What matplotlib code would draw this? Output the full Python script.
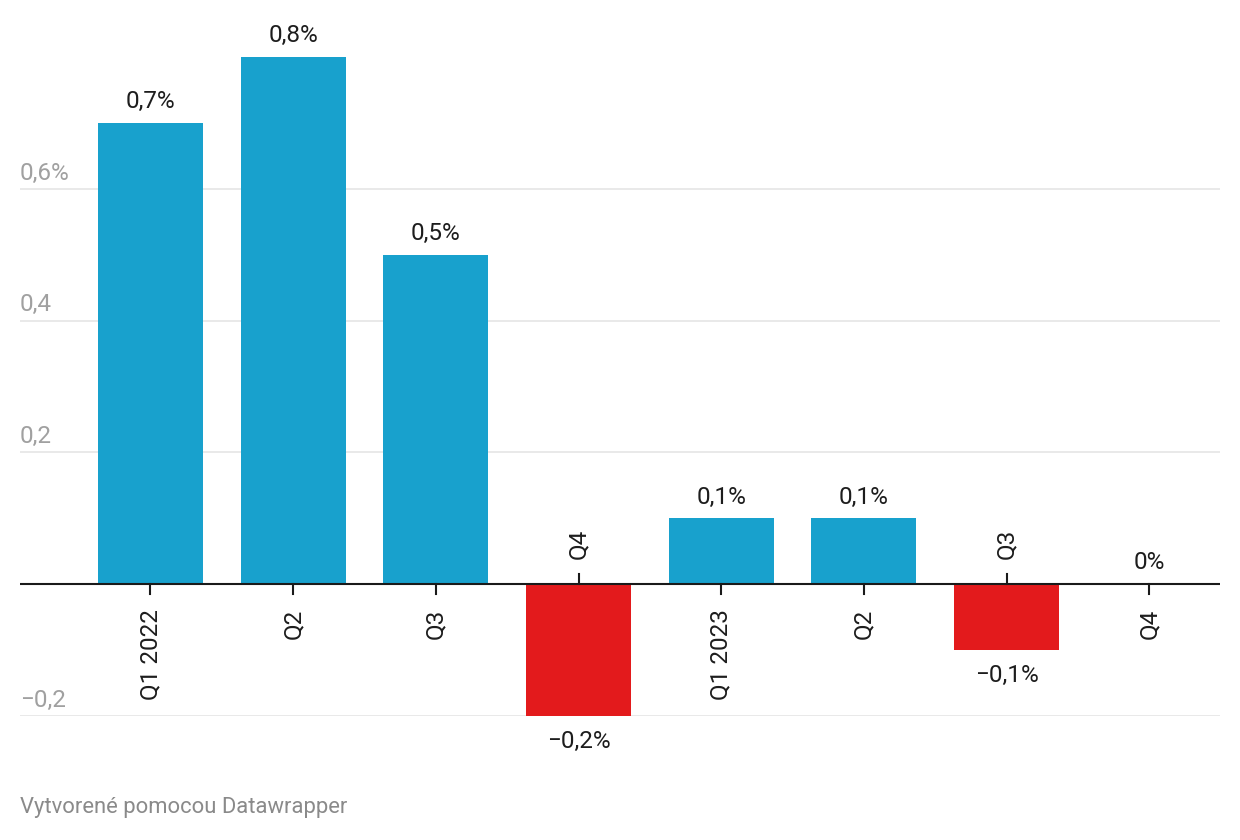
"""Datawrapper-style bar chart: quarterly change, positive/negative bars."""

import matplotlib

matplotlib.use("Agg")

import matplotlib.pyplot as plt  # noqa: E402

# Data
quarters = ["Q1 2022", "Q2", "Q3", "Q4", "Q1 2023", "Q2", "Q3", "Q4"]
values = [0.7, 0.8, 0.5, -0.2, 0.1, 0.1, -0.1, 0.0]
y_ticks = [-0.2, 0.2, 0.4, 0.6]
y_tick_labels = ["\u22120,2", "0,2", "0,4", "0,6%"]

BLUE = "#18a1cd"
RED = "#e31a1c"
TEXT = "#1d1d1d"
GRAY = "#a0a0a0"
FS = 17.5

plt.rcParams["font.family"] = ["Roboto", "DejaVu Sans"]


def fmt_value(v):
    if v == 0:
        return "0%"
    s = f"{abs(v):.1f}".replace(".", ",") + "%"
    return ("\u2212" + s) if v < 0 else s


W, H = 1240, 840
fig = plt.figure(figsize=(W / 100, H / 100), dpi=100)
# axes: x 20..1220 px, y from -0.2 (px 716) to 0.8 (px 57)
ax = fig.add_axes([20 / W, (H - 716) / H, 1200 / W, 659 / H])
ax.set_xlim(-0.9145, 7.495)
ax.set_ylim(-0.2, 0.8)
ax.axis("off")

x = list(range(len(values)))
colors = [BLUE if v >= 0 else RED for v in values]

# gridlines + y labels
for t in y_ticks:
    ax.axhline(t, color="#e3e3e3", lw=1.1, zorder=0)
for t, lab in zip(y_ticks, y_tick_labels):
    ax.annotate(lab, (0, t), xycoords=("axes fraction", "data"),
                xytext=(0, 3), textcoords="offset points",
                ha="left", va="bottom", fontsize=FS, color=GRAY)

ax.bar(x, values, width=0.736, color=colors, zorder=2)
ax.axhline(0, color="#1a1a1a", lw=1.5, zorder=3)

tick_len = 10 / 659 * 1.0  # 10 px in data units
for xi, v, q in zip(x, values, quarters):
    if v >= 0:
        ax.plot([xi, xi], [0, -tick_len], color="#1a1a1a", lw=1.5, zorder=3)
        ax.annotate(q, (xi, 0), xytext=(0, -18), textcoords="offset points",
                    rotation=90, ha="center", va="top", fontsize=FS, color=TEXT)
        ax.annotate(fmt_value(v), (xi, v), xytext=(0, 7),
                    textcoords="offset points", ha="center", va="bottom",
                    fontsize=FS, color=TEXT)
    else:
        ax.plot([xi, xi], [0, tick_len], color="#1a1a1a", lw=1.5, zorder=3)
        ax.annotate(q, (xi, 0), xytext=(0, 18), textcoords="offset points",
                    rotation=90, ha="center", va="bottom", fontsize=FS, color=TEXT)
        ax.annotate(fmt_value(v), (xi, v), xytext=(0, -10),
                    textcoords="offset points", ha="center", va="top",
                    fontsize=FS, color=TEXT)

fig.text(20 / W, 1 - 808 / H, "Vytvorené pomocou Datawrapper",
         ha="left", va="center", fontsize=15.8, color="#8a8a8a")

fig.savefig("out.png", dpi=100)
plt.close(fig)
